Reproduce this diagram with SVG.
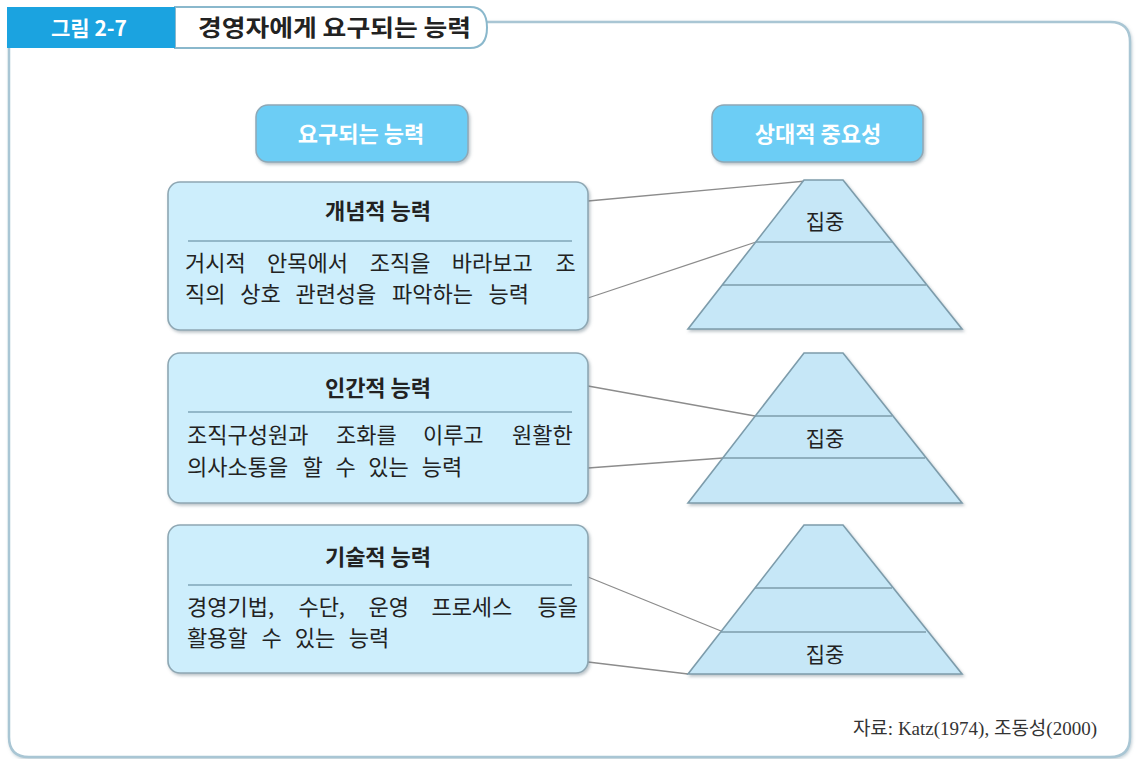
<svg xmlns="http://www.w3.org/2000/svg" width="1139" height="759" viewBox="0 0 1139 759">
<defs>
<filter id="sh" x="-10%" y="-10%" width="120%" height="130%">
<feDropShadow dx="1.5" dy="2" stdDeviation="1.5" flood-color="#6a7f8a" flood-opacity="0.45"/>
</filter>
<filter id="fsh" x="-5%" y="-5%" width="110%" height="110%">
<feDropShadow dx="1" dy="1.5" stdDeviation="1.5" flood-color="#8aa3b0" flood-opacity="0.5"/>
</filter>
</defs>
<style>
.frame{fill:#ffffff;stroke:#a9c6d4;stroke-width:2.5}
.btn{fill:#6ccdf5;stroke:#8ea8b6;stroke-width:1.5}
.btnt{font-family:"Noto Sans CJK KR",sans-serif;font-weight:bold;font-size:22px;fill:#ffffff;text-anchor:middle}
.box{fill:#cdeefc;stroke:#8ea7b3;stroke-width:1.6}
.div{stroke:#7fa6b8;stroke-width:1.6}
.ttl{font-family:"Noto Sans CJK KR",sans-serif;font-weight:bold;font-size:22px;fill:#222;text-anchor:middle}
.body{font-family:"Noto Sans CJK KR",sans-serif;font-size:22px;fill:#222}
.pyr{fill:#c6e7f7;stroke:#7d9cab;stroke-width:1.6}
.pyl{stroke:#7d9cab;stroke-width:1.6}
.foc{font-family:"Noto Sans CJK KR",sans-serif;font-size:21px;fill:#222;text-anchor:middle}
.con{stroke:#8c8c8c;stroke-width:1.3;fill:none}
</style>
<rect width="1139" height="759" fill="#ffffff"/>
<g id="frame">
<path class="frame" filter="url(#fsh)" d="M9,40 L9,737 Q9,757 29,757 L1110,757 Q1130,757 1130,737 L1130,42 Q1130,22 1110,22 L470,22"/>
<path d="M175,7 L470,7 Q487,7 487,27.5 Q487,48 470,48 L175,48 Z" fill="#ffffff" stroke="#8ab8cc" stroke-width="2"/>
<rect x="7" y="7" width="168" height="41" fill="#1ba3e0"/>
<text x="89" y="36" font-family="'Noto Sans CJK KR',sans-serif" font-weight="bold" font-size="21" fill="#ffffff" text-anchor="middle">그림 2-7</text>
<text x="198" y="36" font-family="'Noto Sans CJK KR',sans-serif" font-weight="bold" font-size="23" fill="#222" textLength="273" lengthAdjust="spacingAndGlyphs">경영자에게 요구되는 능력</text>
</g>
<g id="hdr-left">
<rect class="btn" filter="url(#sh)" x="256" y="105" width="212" height="57" rx="12"/>
<text class="btnt" x="361" y="142">요구되는 능력</text>
</g>
<g id="hdr-right">
<rect class="btn" filter="url(#sh)" x="712" y="105" width="211" height="57" rx="12"/>
<text class="btnt" x="818" y="142">상대적 중요성</text>
</g>
<g id="connectors">
<line class="con" x1="588" y1="201" x2="806" y2="181"/>
<line class="con" x1="588" y1="298" x2="756" y2="242"/>
<line class="con" x1="588" y1="386" x2="755" y2="416"/>
<line class="con" x1="588" y1="468" x2="723" y2="458"/>
<line class="con" x1="588" y1="577" x2="721" y2="631"/>
<line class="con" x1="588" y1="662" x2="688" y2="674"/>
</g>
<g id="box-conceptual">
<rect class="box" filter="url(#sh)" x="168" y="182" width="420" height="148" rx="12"/>
<text class="ttl" x="378" y="219">개념적 능력</text>
<line class="div" x1="188" y1="241" x2="572" y2="241"/>
<text class="body" y="271"><tspan x="185">거시적</tspan><tspan x="267">안목에서</tspan><tspan x="369.7">조직을</tspan><tspan x="451.7">바라보고</tspan><tspan x="555.5">조</tspan></text>
<text class="body" y="302"><tspan x="185">직의</tspan><tspan x="240.2">상호</tspan><tspan x="295.4">관련성을</tspan><tspan x="392">파악하는</tspan><tspan x="488.6">능력</tspan></text>
</g>
<g id="box-human">
<rect class="box" filter="url(#sh)" x="168" y="353" width="420" height="150" rx="12"/>
<text class="ttl" x="378" y="396">인간적 능력</text>
<line class="div" x1="188" y1="412" x2="572" y2="412"/>
<text class="body" y="443"><tspan x="187">조직구성원과</tspan><tspan x="336">조화를</tspan><tspan x="422.9">이루고</tspan><tspan x="512">원활한</tspan></text>
<text class="body" y="475"><tspan x="187">의사소통을</tspan><tspan x="302.6">할</tspan><tspan x="335.4">수</tspan><tspan x="368.2">있는</tspan><tspan x="421.7">능력</tspan></text>
</g>
<g id="box-technical">
<rect class="box" filter="url(#sh)" x="168" y="525" width="420" height="148" rx="12"/>
<text class="ttl" x="378" y="565">기술적 능력</text>
<line class="div" x1="188" y1="585" x2="572" y2="585"/>
<text class="body" y="615"><tspan x="187">경영기법,</tspan><tspan x="298.4">수단,</tspan><tspan x="368.4">운영</tspan><tspan x="431.4">프로세스</tspan><tspan x="537.5">등을</tspan></text>
<text class="body" y="646"><tspan x="187">활용할</tspan><tspan x="261.6">수</tspan><tspan x="294.8">있는</tspan><tspan x="348.7">능력</tspan></text>
</g>
<g id="pyramid-1">
<polygon class="pyr" filter="url(#sh)" points="804,180 843,180 962,329 688,329"/>
<line class="pyl" x1="756" y1="242" x2="893" y2="242"/>
<line class="pyl" x1="722" y1="285" x2="926" y2="285"/>
<text class="foc" x="825" y="229">집중</text>
</g>
<g id="pyramid-2">
<polygon class="pyr" filter="url(#sh)" points="804,353 843,353 962,503 688,503"/>
<line class="pyl" x1="755" y1="416" x2="892" y2="416"/>
<line class="pyl" x1="723" y1="458" x2="925" y2="458"/>
<text class="foc" x="825" y="446">집중</text>
</g>
<g id="pyramid-3">
<polygon class="pyr" filter="url(#sh)" points="804,525 843,525 962,674 688,674"/>
<line class="pyl" x1="755" y1="588" x2="892" y2="588"/>
<line class="pyl" x1="721" y1="632" x2="926" y2="632"/>
<text class="foc" x="825" y="662">집중</text>
</g>
<text id="source" x="1097" y="735" font-family="'Liberation Serif','Noto Sans CJK KR',serif" font-size="19" fill="#333" text-anchor="end">자료: Katz(1974), 조동성(2000)</text>
</svg>
